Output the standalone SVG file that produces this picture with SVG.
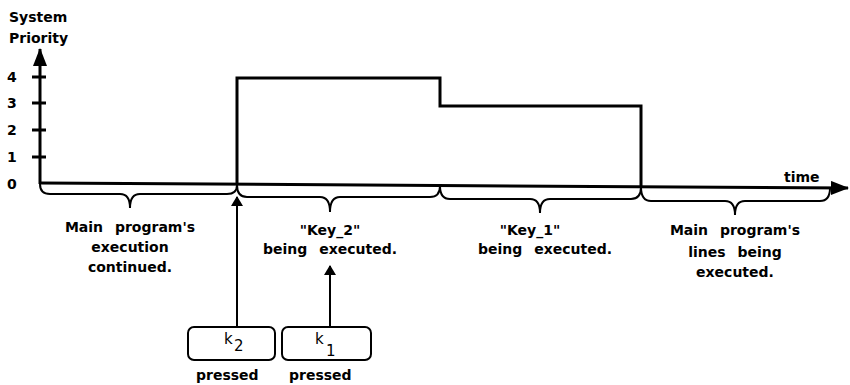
<svg xmlns="http://www.w3.org/2000/svg" width="850" height="385" viewBox="0 0 850 385">
<style>
text{font-family:"DejaVu Sans","Liberation Sans",sans-serif;font-size:14px;fill:#000;font-weight:bold;word-spacing:7px}
.mid{text-anchor:middle}
.nw{word-spacing:0}
.k{font-weight:normal;font-size:15px}
.ax{stroke:#000;stroke-width:3;fill:none}
.br{stroke:#000;stroke-width:2;fill:none}
.ln{stroke:#000;stroke-width:2;fill:none}
.box{stroke:#000;stroke-width:2;fill:#fff}
</style>
<defs>
<marker id="ah" viewBox="0 0 10 16" refX="9" refY="8" markerWidth="10" markerHeight="16" markerUnits="userSpaceOnUse" orient="auto">
<path d="M0,2 L10,8 L0,14 Z" fill="#000"/>
</marker>
<marker id="ahs" viewBox="0 0 18 14" refX="17" refY="7" markerWidth="18" markerHeight="14" markerUnits="userSpaceOnUse" orient="auto">
<path d="M0,0 L18,7 L0,14 Z" fill="#000"/>
</marker>
</defs>
<g id="axes">
<text class="nw" x="9" y="22">System</text>
<text class="nw" x="9" y="43">Priority</text>
<line class="ax" x1="40" y1="184" x2="40" y2="49" marker-end="url(#ahs)"/>
<path class="ax" d="M32,77H46M32,103H46M32,130H46M32,157H46"/>
<text x="7" y="82">4</text>
<text x="7" y="108">3</text>
<text x="7" y="135">2</text>
<text x="7" y="162">1</text>
<text x="7" y="189">0</text>
<line class="ax" x1="40" y1="183" x2="848" y2="188" marker-end="url(#ahs)"/>
<text class="nw" x="784" y="182">time</text>
</g>
<g id="priority-step">
<path class="ax" d="M237,185V78H440V106H641V187"/>
</g>
<g id="braces">
<path class="br" d="M40,184Q40,194 50,194H120Q130,194 130,208Q130,194 140,194H227Q237,194 237,185"/>
<path class="br" d="M237,185Q237,197 247,197H320Q330,197 330,212Q330,197 340,197H430Q440,197 440,186"/>
<path class="br" d="M440,186Q440,199 450,199H530Q540,199 540,213Q540,199 550,199H631Q641,199 641,187"/>
<path class="br" d="M641,187Q641,201 651,201H725Q735,201 735,215Q735,201 745,201H820Q830,201 830,188"/>
</g>
<g id="labels">
<text class="mid" x="130" y="232">Main program's</text>
<text class="mid" x="130" y="252">execution</text>
<text class="mid" x="130" y="272">continued.</text>
<text class="mid" x="330" y="235">"Key_2"</text>
<text class="mid" x="330" y="254">being executed.</text>
<text class="mid" x="530" y="235">"Key_1"</text>
<text class="mid" x="545" y="254">being executed.</text>
<text class="mid" x="735" y="235">Main program's</text>
<text class="mid" x="735" y="257">lines being</text>
<text class="mid" x="735" y="277">executed.</text>
</g>
<g id="connectors">
<line class="ln" x1="237" y1="327" x2="237" y2="197" marker-end="url(#ah)"/>
<line class="ln" x1="330" y1="327" x2="330" y2="266" marker-end="url(#ah)"/>
</g>
<g id="k2-box">
<rect class="box" x="188" y="327" width="87" height="33" rx="6"/>
<text class="k" x="224" y="344">k</text>
<text class="k" x="234" y="351">2</text>
<text class="nw" x="196" y="380">pressed</text>
</g>
<g id="k1-box">
<rect class="box" x="282" y="327" width="89" height="33" rx="6"/>
<text class="k" x="315" y="344">k</text>
<text class="k" x="326" y="356">1</text>
<text class="nw" x="289" y="380">pressed</text>
</g>
</svg>
